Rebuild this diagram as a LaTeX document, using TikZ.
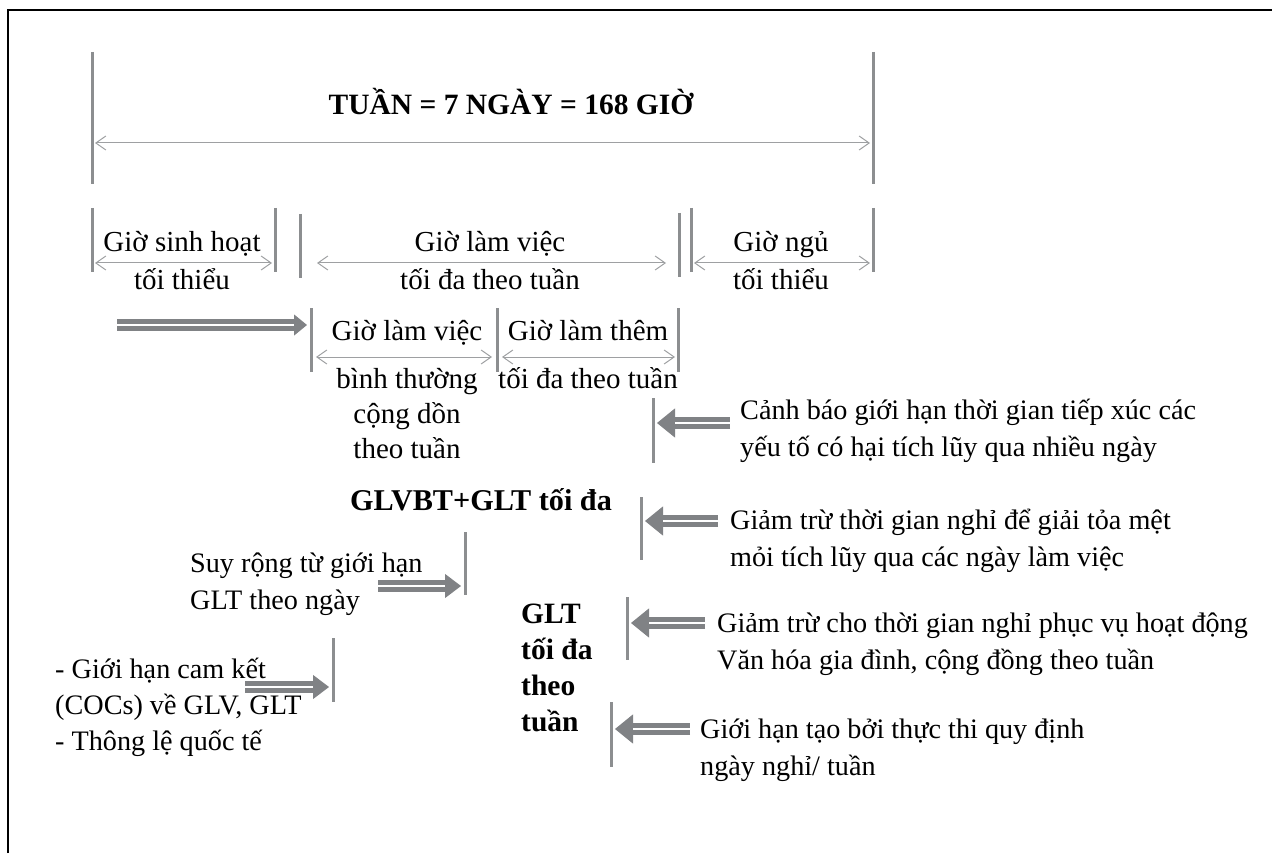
\documentclass[tikz,border=0pt]{standalone}
\usepackage{fontspec}
\setmainfont{Liberation Serif}
\usetikzlibrary{arrows.meta,calc}
\definecolor{barcol}{RGB}{140,142,144}
\definecolor{dimcol}{RGB}{158,160,162}
\definecolor{pushcol}{RGB}{128,130,133}
\tikzset{
  ctxt/.style={inner sep=0pt, font=\fontsize{29}{35}\selectfont, align=center},
  rowtxt/.style={inner sep=0pt, font=\fontsize{29}{39}\selectfont, align=center},
  ltxt/.style={inner sep=0pt, font=\fontsize{28.2}{37}\selectfont, align=left},
  btxt/.style={inner sep=0pt, font=\fontsize{29.5}{36}\selectfont\bfseries, align=left},
  limitbar/.style={draw=barcol, line width=3pt},
  span/.style={draw=dimcol, line width=1pt,
    {Straight Barb[length=10pt,width=14pt]}-{Straight Barb[length=10pt,width=14pt]}},
  frameline/.style={draw=black, line width=2pt},
}
% double-shafted push arrow: #1 start, #2 tip, #3 head length, #4 head width
\newcommand{\pusharrow}[4]{%
  \draw[pushcol, line width=1pt, -{Triangle[length=#3,width=#4]}] (#1) -- (#2);
  \draw[pushcol, line width=4.5pt, double=white, double distance=2.5pt]
    (#1) -- ($(#2)!#3!(#1)$);
}
\begin{document}
\begin{tikzpicture}[x=1pt,y=-1pt]
\useasboundingbox (0,0) rectangle (1272,861);

% outer frame
\coordinate (fBL) at (8,853);
\coordinate (fTR) at (1272,10);
\draw[frameline] (fBL) |- (fTR);

% ---- whole week ----
\coordinate (wL1) at (92,52);  \coordinate (wL2) at (92,184);
\coordinate (wR1) at (873,52); \coordinate (wR2) at (873,184);
\draw[limitbar] (wL1) -- (wL2);
\draw[limitbar] (wR1) -- (wR2);
\coordinate (wA) at (95,143); \coordinate (wB) at (870,143);
\draw[span] (wA) -- (wB);
\node[btxt, anchor=base] (week) at (511,115) {TUẦN = 7 NGÀY = 168 GIỜ};

% ---- second row: living / working / sleeping ----
\coordinate (b1t) at (92,208);  \coordinate (b1b) at (92,272);
\coordinate (b2t) at (275,208); \coordinate (b2b) at (275,272);
\coordinate (b3t) at (300,214); \coordinate (b3b) at (300,278);
\coordinate (b4t) at (679,213); \coordinate (b4b) at (679,277);
\coordinate (b5t) at (691,208); \coordinate (b5b) at (691,272);
\coordinate (b6t) at (873,208); \coordinate (b6b) at (873,272);
\foreach \b in {b1,b2,b3,b4,b5,b6} \draw[limitbar] (\b t) -- (\b b);
\coordinate (s1a) at (95,263);  \coordinate (s1b) at (272,263);
\coordinate (s2a) at (317,263); \coordinate (s2b) at (666,263);
\coordinate (s3a) at (694,263); \coordinate (s3b) at (870,263);
\draw[span] (s1a) -- (s1b);
\draw[span] (s2a) -- (s2b);
\draw[span] (s3a) -- (s3b);
% (base anchor of a multi-line node = baseline of its last line)
\node[rowtxt, anchor=base] (living) at (182,290) {Giờ sinh hoạt\\tối thiểu};
\node[rowtxt, anchor=base] (working) at (490,290) {Giờ làm việc\\tối đa theo tuần};
\node[rowtxt, anchor=base] (sleep) at (781,290) {Giờ ngủ\\tối thiểu};

% ---- third row: normal hours / overtime ----
\coordinate (c1t) at (311,308); \coordinate (c1b) at (311,372);
\coordinate (c2t) at (497,308); \coordinate (c2b) at (497,372);
\coordinate (c3t) at (678,308); \coordinate (c3b) at (678,372);
\foreach \b in {c1,c2,c3} \draw[limitbar] (\b t) -- (\b b);
\coordinate (t1a) at (316,357); \coordinate (t1b) at (492,357);
\coordinate (t2a) at (502,357); \coordinate (t2b) at (675,357);
\draw[span] (t1a) -- (t1b);
\draw[span] (t2a) -- (t2b);
\node[ctxt, anchor=base] (normal) at (407,458) {Giờ làm việc\\[13pt]bình thường\\cộng dồn\\theo tuần};
\node[ctxt, anchor=base] (overtime) at (588,388) {Giờ làm thêm\\[13pt]tối đa theo tuần};
\coordinate (p0a) at (117,325); \coordinate (p0b) at (307,325);
\pusharrow{p0a}{p0b}{13pt}{21pt}

% ---- weekly totals ----
\node[btxt, anchor=base, font=\fontsize{30.2}{36}\selectfont\bfseries] (total) at (481,510) {GLVBT+GLT tối đa};
\node[btxt, anchor=base west] (otweek) at (521,731) {GLT\\tối đa\\theo\\tuần};

% ---- reductions from the right ----
\coordinate (r1t) at (653,398); \coordinate (r1b) at (653,463);
\coordinate (r2t) at (641,497); \coordinate (r2b) at (641,560);
\coordinate (r3t) at (627,597); \coordinate (r3b) at (627,660);
\coordinate (r4t) at (611,702); \coordinate (r4b) at (611,767);
\foreach \b in {r1,r2,r3,r4} \draw[limitbar] (\b t) -- (\b b);

\node[ltxt, anchor=base west] (warn) at (740,456)
  {Cảnh báo giới hạn thời gian tiếp xúc các\\yếu tố có hại tích lũy qua nhiều ngày};
\node[ltxt, anchor=base west] (fatigue) at (730,566)
  {Giảm trừ thời gian nghỉ để giải tỏa mệt\\mỏi tích lũy qua các ngày làm việc};
\node[ltxt, anchor=base west] (culture) at (717,669)
  {Giảm trừ cho thời gian nghỉ phục vụ hoạt động\\Văn hóa gia đình, cộng đồng theo tuần};
\node[ltxt, anchor=base west] (restday) at (700,775)
  {Giới hạn tạo bởi thực thi quy định\\ngày nghỉ/ tuần};

\coordinate (q1a) at (730,423); \coordinate (q1b) at (657,423);
\coordinate (q2a) at (718,521); \coordinate (q2b) at (645,521);
\coordinate (q3a) at (705,623); \coordinate (q3b) at (631,623);
\coordinate (q4a) at (690,729); \coordinate (q4b) at (615,729);
\pusharrow{q1a}{q1b}{18pt}{29pt}
\pusharrow{q2a}{q2b}{18pt}{29pt}
\pusharrow{q3a}{q3b}{18pt}{29pt}
\pusharrow{q4a}{q4b}{18pt}{29pt}

% ---- sources from the left ----
\coordinate (u1t) at (465,532); \coordinate (u1b) at (465,595);
\coordinate (u2t) at (333,638); \coordinate (u2b) at (333,702);
\draw[limitbar] (u1t) -- (u1b);
\draw[limitbar] (u2t) -- (u2b);
\node[ltxt, anchor=base west] (daily) at (190,609) {Suy rộng từ giới hạn\\GLT theo ngày};
\node[ltxt, anchor=base west, font=\fontsize{28.2}{36}\selectfont] (cocs) at (55,750)
  {- Giới hạn cam kết\\(COCs) về GLV, GLT\\- Thông lệ quốc tế};
\coordinate (v1a) at (378,586); \coordinate (v1b) at (461,586);
\coordinate (v2a) at (245,687); \coordinate (v2b) at (329,687);
\pusharrow{v1a}{v1b}{16pt}{24pt}
\pusharrow{v2a}{v2b}{16pt}{24pt}
\end{tikzpicture}
\end{document}
